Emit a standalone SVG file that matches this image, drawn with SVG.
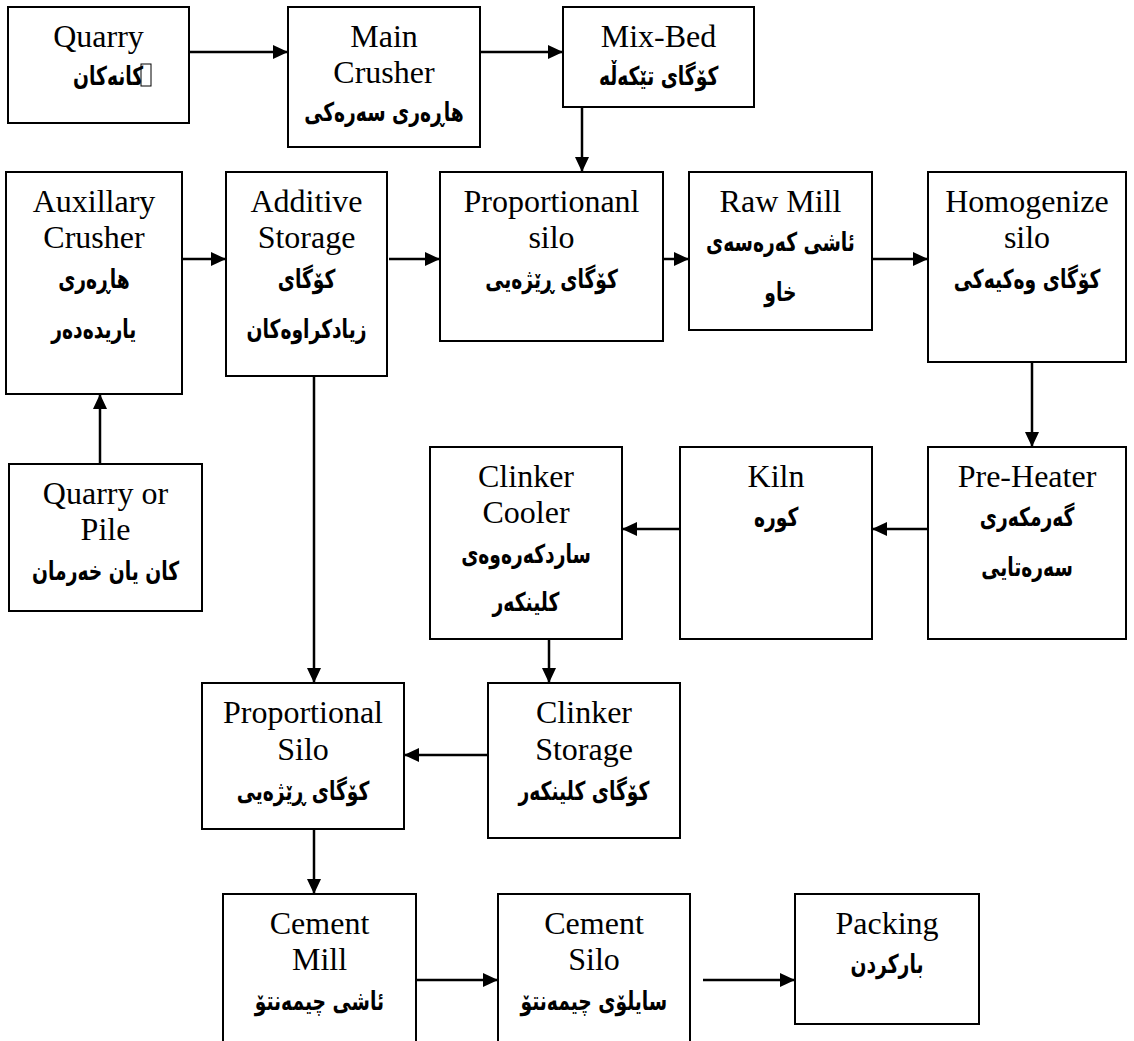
<svg xmlns="http://www.w3.org/2000/svg" width="1134" height="1041" viewBox="0 0 1134 1041">
<style>
.box{fill:#fff;stroke:#000;stroke-width:2}
.en{font-family:"Liberation Serif","Times New Roman",serif;font-size:32px;text-anchor:middle;fill:#000}
.ku{font-family:"DejaVu Sans",sans-serif;font-weight:bold;font-size:26px;text-anchor:middle;fill:#000;transform-box:fill-box;transform-origin:center;transform:scaleX(0.72)}
.c{fill:none;stroke:#000;stroke-width:2.5}
</style>
<defs>
<marker id="ah" markerUnits="userSpaceOnUse" markerWidth="15" markerHeight="14" refX="15" refY="7" orient="auto">
<path d="M0,0 L15,7 L0,14 z" fill="#000"/>
</marker>
</defs>
<rect width="1134" height="1041" fill="#fff"/>
<g id="connectors">
<path class="c" d="M189,52 H288" marker-end="url(#ah)"/>
<path class="c" d="M480,52 H563" marker-end="url(#ah)"/>
<path class="c" d="M582,101 V172" marker-end="url(#ah)"/>
<path class="c" d="M182,259 H226" marker-end="url(#ah)"/>
<path class="c" d="M389,259 H440" marker-end="url(#ah)"/>
<path class="c" d="M663,259 H689" marker-end="url(#ah)"/>
<path class="c" d="M872,259 H928" marker-end="url(#ah)"/>
<path class="c" d="M1032,362 V447" marker-end="url(#ah)"/>
<path class="c" d="M928,529 H872" marker-end="url(#ah)"/>
<path class="c" d="M680,529 H622" marker-end="url(#ah)"/>
<path class="c" d="M100,464 V394" marker-end="url(#ah)"/>
<path class="c" d="M314,376 V683" marker-end="url(#ah)"/>
<path class="c" d="M549,637 V683" marker-end="url(#ah)"/>
<path class="c" d="M488,755 H404" marker-end="url(#ah)"/>
<path class="c" d="M314,829 V894" marker-end="url(#ah)"/>
<path class="c" d="M413,980 H498" marker-end="url(#ah)"/>
<path class="c" d="M703,980 H795" marker-end="url(#ah)"/>
</g>
<g id="quarry">
<rect class="box" x="8" y="7" width="181" height="116"/>
<text class="en" x="98.5" y="47">Quarry</text>
<text class="ku" x="108" y="85">كانەكان</text>
<rect x="141" y="64" width="10" height="22" fill="none" stroke="#000" stroke-width="1"/>
</g>
<g id="main-crusher">
<rect class="box" x="288" y="7" width="192" height="140"/>
<text class="en" x="384" y="47">Main</text>
<text class="en" x="384" y="83">Crusher</text>
<text class="ku" x="384" y="121">هاڕەری سەرەکی</text>
</g>
<g id="mix-bed">
<rect class="box" x="563" y="7" width="191" height="100"/>
<text class="en" x="658.5" y="47">Mix-Bed</text>
<text class="ku" x="658.5" y="85">کۆگای تێکەڵە</text>
</g>
<g id="auxillary-crusher">
<rect class="box" x="6" y="172" width="176" height="222"/>
<text class="en" x="94" y="212">Auxillary</text>
<text class="en" x="94" y="248">Crusher</text>
<text class="ku" x="94" y="288">هاڕەری</text>
<text class="ku" x="94" y="338">یاریدەدەر</text>
</g>
<g id="additive-storage">
<rect class="box" x="226" y="172" width="161" height="204"/>
<text class="en" x="306.5" y="212">Additive</text>
<text class="en" x="306.5" y="248">Storage</text>
<text class="ku" x="306.5" y="288">کۆگای</text>
<text class="ku" x="306.5" y="338">زیادکراوەکان</text>
</g>
<g id="proportionanl-silo">
<rect class="box" x="440" y="172" width="223" height="169"/>
<text class="en" x="551.5" y="212">Proportionanl</text>
<text class="en" x="551.5" y="248">silo</text>
<text class="ku" x="551.5" y="288">کۆگای ڕێژەیی</text>
</g>
<g id="raw-mill">
<rect class="box" x="689" y="172" width="183" height="158"/>
<text class="en" x="780.5" y="212">Raw Mill</text>
<text class="ku" x="780.5" y="251">ئاشی کەرەسەی</text>
<text class="ku" x="780.5" y="301">خاو</text>
</g>
<g id="homogenize-silo">
<rect class="box" x="928" y="172" width="198" height="190"/>
<text class="en" x="1027" y="212">Homogenize</text>
<text class="en" x="1027" y="248">silo</text>
<text class="ku" x="1027" y="288">کۆگای وەکیەکی</text>
</g>
<g id="quarry-or-pile">
<rect class="box" x="9" y="464" width="193" height="147"/>
<text class="en" x="105.5" y="504">Quarry or</text>
<text class="en" x="105.5" y="540">Pile</text>
<text class="ku" x="105.5" y="580">کان یان خەرمان</text>
</g>
<g id="clinker-cooler">
<rect class="box" x="430" y="447" width="192" height="192"/>
<text class="en" x="526" y="487">Clinker</text>
<text class="en" x="526" y="523">Cooler</text>
<text class="ku" x="526" y="563">ساردکەرەوەی</text>
<text class="ku" x="526" y="611">کلینکەر</text>
</g>
<g id="kiln">
<rect class="box" x="680" y="447" width="192" height="192"/>
<text class="en" x="776" y="487">Kiln</text>
<text class="ku" x="776" y="526">کورە</text>
</g>
<g id="pre-heater">
<rect class="box" x="928" y="447" width="198" height="192"/>
<text class="en" x="1027" y="487">Pre-Heater</text>
<text class="ku" x="1027" y="526">گەرمکەری</text>
<text class="ku" x="1027" y="576">سەرەتایی</text>
</g>
<g id="proportional-silo">
<rect class="box" x="202" y="683" width="202" height="146"/>
<text class="en" x="303" y="723">Proportional</text>
<text class="en" x="303" y="760">Silo</text>
<text class="ku" x="303" y="800">کۆگای ڕێژەیی</text>
</g>
<g id="clinker-storage">
<rect class="box" x="488" y="683" width="192" height="155"/>
<text class="en" x="584" y="723">Clinker</text>
<text class="en" x="584" y="760">Storage</text>
<text class="ku" x="584" y="800">کۆگای کلینکەر</text>
</g>
<g id="cement-mill">
<rect class="box" x="223" y="894" width="193" height="170"/>
<text class="en" x="319.5" y="934">Cement</text>
<text class="en" x="319.5" y="970">Mill</text>
<text class="ku" x="319.5" y="1010">ئاشی چیمەنتۆ</text>
</g>
<g id="cement-silo">
<rect class="box" x="498" y="894" width="192" height="170"/>
<text class="en" x="594" y="934">Cement</text>
<text class="en" x="594" y="970">Silo</text>
<text class="ku" x="594" y="1010">سایلۆی چیمەنتۆ</text>
</g>
<g id="packing">
<rect class="box" x="795" y="894" width="184" height="130"/>
<text class="en" x="887" y="934">Packing</text>
<text class="ku" x="887" y="973">بارکردن</text>
</g>
</svg>
